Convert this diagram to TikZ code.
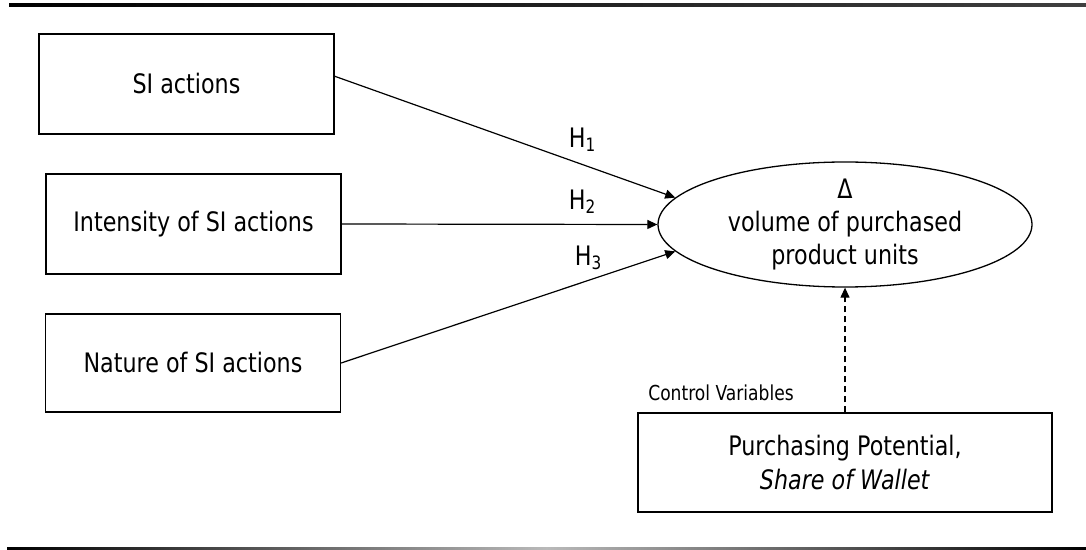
\documentclass[tikz,border=0pt]{standalone}
\usepackage{fontspec}
\setmainfont{DejaVu Sans}[FakeStretch=0.83]
\usetikzlibrary{arrows.meta,shapes.geometric}
\newcommand{\hyp}[1]{H\raisebox{-1.9pt}{\fontsize{9.2}{9}\selectfont #1}}

\begin{document}
\begin{tikzpicture}[>={Triangle[length=5pt,width=4.5pt]}, font=\fontsize{13.4}{16.6}\selectfont, x=0.5pt, y=-0.5pt]
        \tikzset{box/.style={draw, line width=0.65pt, minimum width=147.5pt, minimum height=50pt, align=center, inner sep=0pt}}
        \useasboundingbox (0,0) rectangle (1086,550);
        % rules above and below
        \shade[left color=black, right color=black!75] (9,3.5) rectangle (1086,6.5);
        \shade[left color=black, right color=black, middle color=gray!55] (7,547) rectangle (1086,550);
        \node[box] (act) at (186.5,84) {SI actions};
        \node[box] (int) at (193.5,224) {Intensity of SI actions};
        \node[box, minimum height=49pt] (nat) at (193,363) {Nature of SI actions};
        \node[draw, ellipse, line width=0.65pt, minimum width=187pt, minimum height=62.5pt, inner sep=-1.5pt, align=center] (vol) at (845,224.5) {Δ\\volume of purchased\\product units};
        \node[box, minimum width=207pt, minimum height=49.5pt] (pot) at (845,462.5) {Purchasing Potential,\\\textit{Share of Wallet}};
        \node[font=\fontsize{10.3}{12}\selectfont] (ctl) at (721,393) {Control Variables};
        \node (h1) at (582,140) {\hyp{1}};
        \node (h2) at (582,202) {\hyp{2}};
        \node (h3) at (588,258) {\hyp{3}};
        \draw[->, line width=0.6pt] (act.3) -- (vol.171);
        \draw[->, line width=0.6pt] (int.east) -- (vol.west);
        \draw[->, line width=0.6pt] (nat.east) -- (vol.189);
        \draw[->, line width=0.6pt, dash pattern=on 3pt off 2pt] (pot.north) -- (vol.south);
    \end{tikzpicture}
\end{document}
